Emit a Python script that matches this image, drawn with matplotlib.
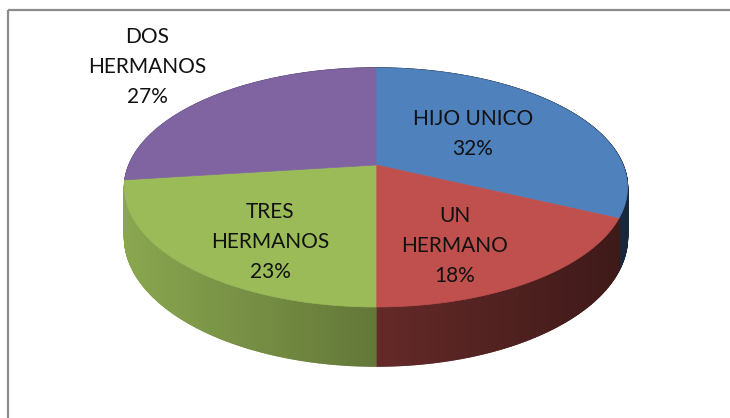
import numpy as np
import matplotlib
matplotlib.use("Agg")
import matplotlib.pyplot as plt
from matplotlib.patches import Polygon, Rectangle
from matplotlib.collections import PolyCollection
from matplotlib.colors import to_rgb

plt.rcParams['font.family'] = ['Lato', 'DejaVu Sans']

# datos
categories = ["HIJO UNICO", "UN\nHERMANO", "TRES\nHERMANOS", "DOS\nHERMANOS"]
percentages = [32, 18, 23, 27]
colors = ['#4f81bd', '#c0504d', '#9bbb59', '#8064a2']
wall_tint = [0.80, 0.82, 1.0, 1.0]

# posicion de etiquetas (pixeles)
label_pos = [(473, 134), (455, 246), (270, 242), (147, 67)]

W, H = 730, 418
cx, cy = 376, 165      # centro de la cara superior
b, a = 247, 115.3      # radios proyectados
k = 0.188              # perspectiva
depth = 48             # grosor del pastel


def project(phi_deg, drop=0.0):
    phi = np.radians(phi_deg)
    u, v = np.sin(phi), np.cos(phi)
    w = 1 + k * v
    return cx + b * u / w, cy - a * v / w + drop / w, v


def shade(x):
    return np.clip(0.89 - (x - 125) / 495 * 0.5, 0.3, 1.0)


def main():
    fig = plt.figure(figsize=(W / 100, H / 100), dpi=100)
    ax = fig.add_axes([0, 0, 1, 1])
    ax.set_xlim(0, W)
    ax.set_ylim(H, 0)
    ax.axis('off')

    # marco
    ax.add_patch(Rectangle((8, 10), W, H, fill=False, edgecolor='#8c8c8c', lw=1.6))

    bounds = np.concatenate([[0], np.cumsum(percentages)]) * 3.6

    # paredes laterales (de atras hacia adelante)
    strips, cols, depths = [], [], []
    for i in range(len(percentages)):
        base = np.array(to_rgb(colors[i]))
        angs = np.linspace(bounds[i], bounds[i + 1], max(int((bounds[i + 1] - bounds[i]) * 3), 2))
        for p1, p2 in zip(angs[:-1], angs[1:]):
            x1, y1, v1 = project(p1)
            x2, y2, v2 = project(p2)
            x1b, y1b, _ = project(p1, depth)
            x2b, y2b, _ = project(p2, depth)
            strips.append([(x1, y1), (x2, y2), (x2b, y2b), (x1b, y1b)])
            f = shade((x1 + x2) / 2) * wall_tint[i]
            cols.append(tuple(np.clip(base * f, 0, 1)))
            depths.append((v1 + v2) / 2)
    order = np.argsort(depths)[::-1]
    pc = PolyCollection([strips[j] for j in order],
                        facecolors=[cols[j] for j in order],
                        edgecolors=[cols[j] for j in order], linewidths=1.0, zorder=2)
    ax.add_collection(pc)

    # caras superiores
    for i in range(len(percentages)):
        angs = np.linspace(bounds[i], bounds[i + 1], 200)
        pts = [(cx, cy)] + [project(p)[:2] for p in angs]
        ax.add_patch(Polygon(pts, closed=True, facecolor=colors[i],
                             edgecolor=colors[i], lw=0.5, zorder=3))

    # etiquetas
    for lab, pct, (x, y) in zip(categories, percentages, label_pos):
        ax.text(x, y, f"{lab}\n{pct}%", ha='center', va='center', fontsize=15,
                linespacing=1.62, color='#111111', zorder=5)

    fig.savefig("out.png", dpi=100)


if __name__ == "__main__":
    main()
